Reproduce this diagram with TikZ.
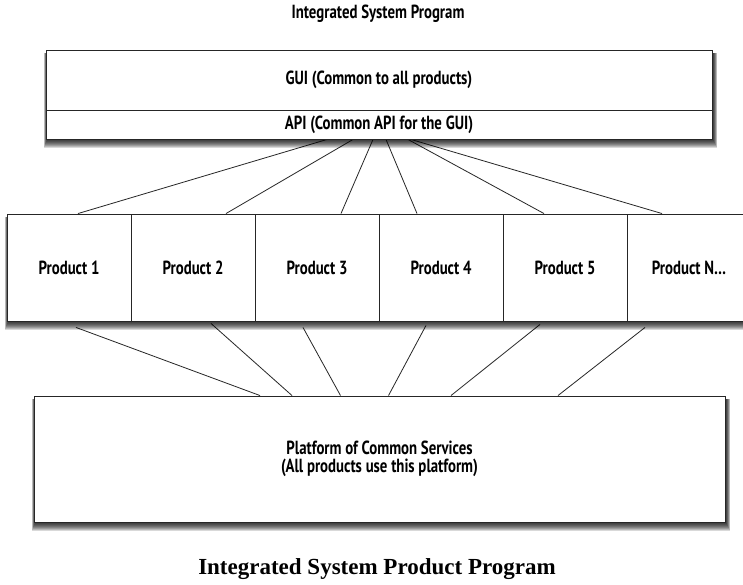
\documentclass[tikz,border=0pt]{standalone}
\usepackage{fontspec}
\newfontfamily\handfont[FakeStretch=0.78]{PT Sans}
\newfontfamily\capfont{Liberation Serif}
\pgfdeclarelayer{background}
\pgfdeclarelayer{shade}
\pgfsetlayers{background,shade,main}
\tikzset{
  handtext/.style={font=\handfont\bfseries\fontsize{19}{20}\selectfont},
  box/.style={draw=black!85, line width=0.9pt, fill=white, inner sep=0pt,
    handtext, align=center},
  link/.style={draw=black!85, line width=0.8pt},
  heading/.style={handtext, inner sep=0pt}
}
% soft drop shadow spanning from box #1 (top left) to box #2 (bottom right)
\newcommand\boxshade[2]{%
  \foreach \r in {0,...,7}{%
    \fill[black, opacity=0.15]
      ([xshift=1pt-0.4*\r pt, yshift=-3pt]#1.north west)
      rectangle ([xshift=1.5pt+0.45*\r pt, yshift=-2pt-1.0*\r pt]#2.south east);
  }%
}
\begin{document}
\begin{tikzpicture}[x=1pt, y=1pt]
\begin{pgfonlayer}{background}
\fill[white] (0,0) rectangle (743,-585);
\end{pgfonlayer}
\useasboundingbox (0,0) rectangle (743,-585);

\node[heading] (title) at (378,-14) {Integrated System Program};

% GUI layer with its API strip
\node[box, minimum width=666pt, minimum height=60pt] (gui) at (379,-80) {GUI (Common to all products)};
\node[box, minimum width=666pt, minimum height=29pt] (api) at (379,-124.5) {API (Common API for the GUI)};

% product row
\foreach \i/\cx/\lab in {1/69/{Product 1}, 2/193/{Product 2}, 3/317/{Product 3},
                        4/441/{Product 4}, 5/565/{Product 5}, 6/689/{Product N\ldots}}{
  \node[box, minimum width=124pt, minimum height=107pt] (p\i) at (\cx,-267.5) {\lab};
}

% platform
\node[box, minimum width=691pt, minimum height=126pt] (plat) at (379.5,-459)
  {Platform of Common Services\\[-2pt](All products use this platform)};

\begin{pgfonlayer}{shade}
\boxshade{gui}{api}
\boxshade{p1}{p6}
\boxshade{plat}{plat}
\end{pgfonlayer}

% connectors sit behind the boxes and their shadows
\begin{pgfonlayer}{background}
% API to products
\draw[link] ([xshift=-52pt]api.south) -- ([xshift=9pt]p1.north);
\draw[link] ([xshift=-26pt]api.south) -- ([xshift=33pt]p2.north);
\draw[link] ([xshift=-6pt]api.south) -- ([xshift=24pt]p3.north);
\draw[link] ([xshift=7pt]api.south) -- ([xshift=-24pt]p4.north);
\draw[link] ([xshift=29pt]api.south) -- ([xshift=-21pt]p5.north);
\draw[link] ([xshift=32pt]api.south) -- ([xshift=-27pt]p6.north);
% products to platform
\draw[link] ([xshift=7pt,yshift=-6pt]p1.south) -- ([xshift=-119.5pt]plat.north);
\draw[link] ([xshift=18pt,yshift=-2pt]p2.south) -- ([xshift=-87.5pt]plat.north);
\draw[link] ([xshift=-14pt,yshift=-6pt]p3.south) -- ([xshift=-39pt]plat.north);
\draw[link] ([xshift=-15pt,yshift=-4pt]p4.south) -- ([xshift=9pt]plat.north);
\draw[link] ([xshift=-25pt,yshift=-3pt]p5.south) -- ([xshift=71.5pt]plat.north);
\draw[link] ([xshift=-44pt,yshift=-6pt]p6.south) -- ([xshift=178.5pt]plat.north);
\end{pgfonlayer}

\node[font=\capfont\bfseries\fontsize{23}{25}\selectfont, inner sep=0pt] (caption) at (377,-569)
  {Integrated System Product Program};
\end{tikzpicture}
\end{document}
